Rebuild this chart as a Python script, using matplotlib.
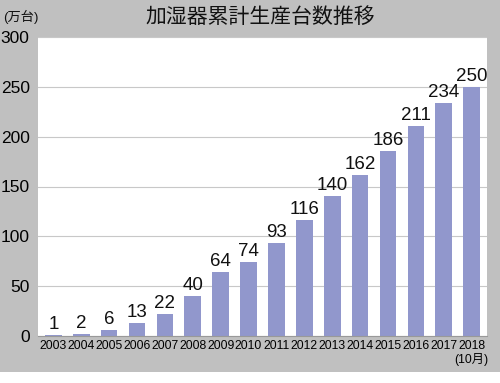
import matplotlib.pyplot as plt
from matplotlib.patches import Rectangle

years = ['2003', '2004', '2005', '2006', '2007', '2008', '2009', '2010',
         '2011', '2012', '2013', '2014', '2015', '2016', '2017', '2018\n(10月)']
values = [1, 2, 6, 13, 22, 40, 64, 74, 93, 116, 140, 162, 186, 211, 234, 250]

plt.rcParams['font.family'] = ['Liberation Sans', 'Noto Sans CJK JP', 'DejaVu Sans']

fig = plt.figure(figsize=(5, 3.83), dpi=100, facecolor='white')
# gray backdrop, leaving a thin white strip at the bottom
fig.patches.append(Rectangle((0, 11 / 383), 1, 1, transform=fig.transFigure,
                             facecolor='#c0c0c0', edgecolor='none', zorder=-1))

ax = fig.add_axes([38 / 500, 47 / 383, 449 / 500, 299 / 383])
ax.set_facecolor('white')
x = range(len(values))
ax.bar(x, values, width=0.6, color='#9197cc', zorder=2)
for i, v in zip(x, values):
    ax.text(i, v + 2, str(v), ha='center', va='bottom', fontsize=13.5, color='#111111')

ax.set_xlim(-0.55, len(values) - 0.45)
ax.set_ylim(0, 300)
ax.set_yticks(range(0, 301, 50))
ax.set_xticks(list(x))
ax.set_xticklabels(years, fontsize=8.8, linespacing=1.05, va='top')
ax.tick_params(axis='y', length=0, labelsize=12.5, pad=6)
ax.tick_params(axis='x', length=0, pad=3)
ax.yaxis.grid(True, color='#c8c8c8', linewidth=0.8, zorder=0)
for s in ['top', 'right', 'left']:
    ax.spines[s].set_visible(False)
ax.spines['bottom'].set_color('#999999')

fig.text(0.52, 0.955, '加湿器累計生産台数推移', ha='center', va='center',
         fontsize=15, family=['Noto Sans CJK JP', 'DejaVu Sans'], color='#111111')
fig.text(0.006, 0.955, '(万台)', ha='left', va='center', fontsize=9.5,
         color='#111111')

fig.savefig('out.png', dpi=100, facecolor=fig.get_facecolor())
